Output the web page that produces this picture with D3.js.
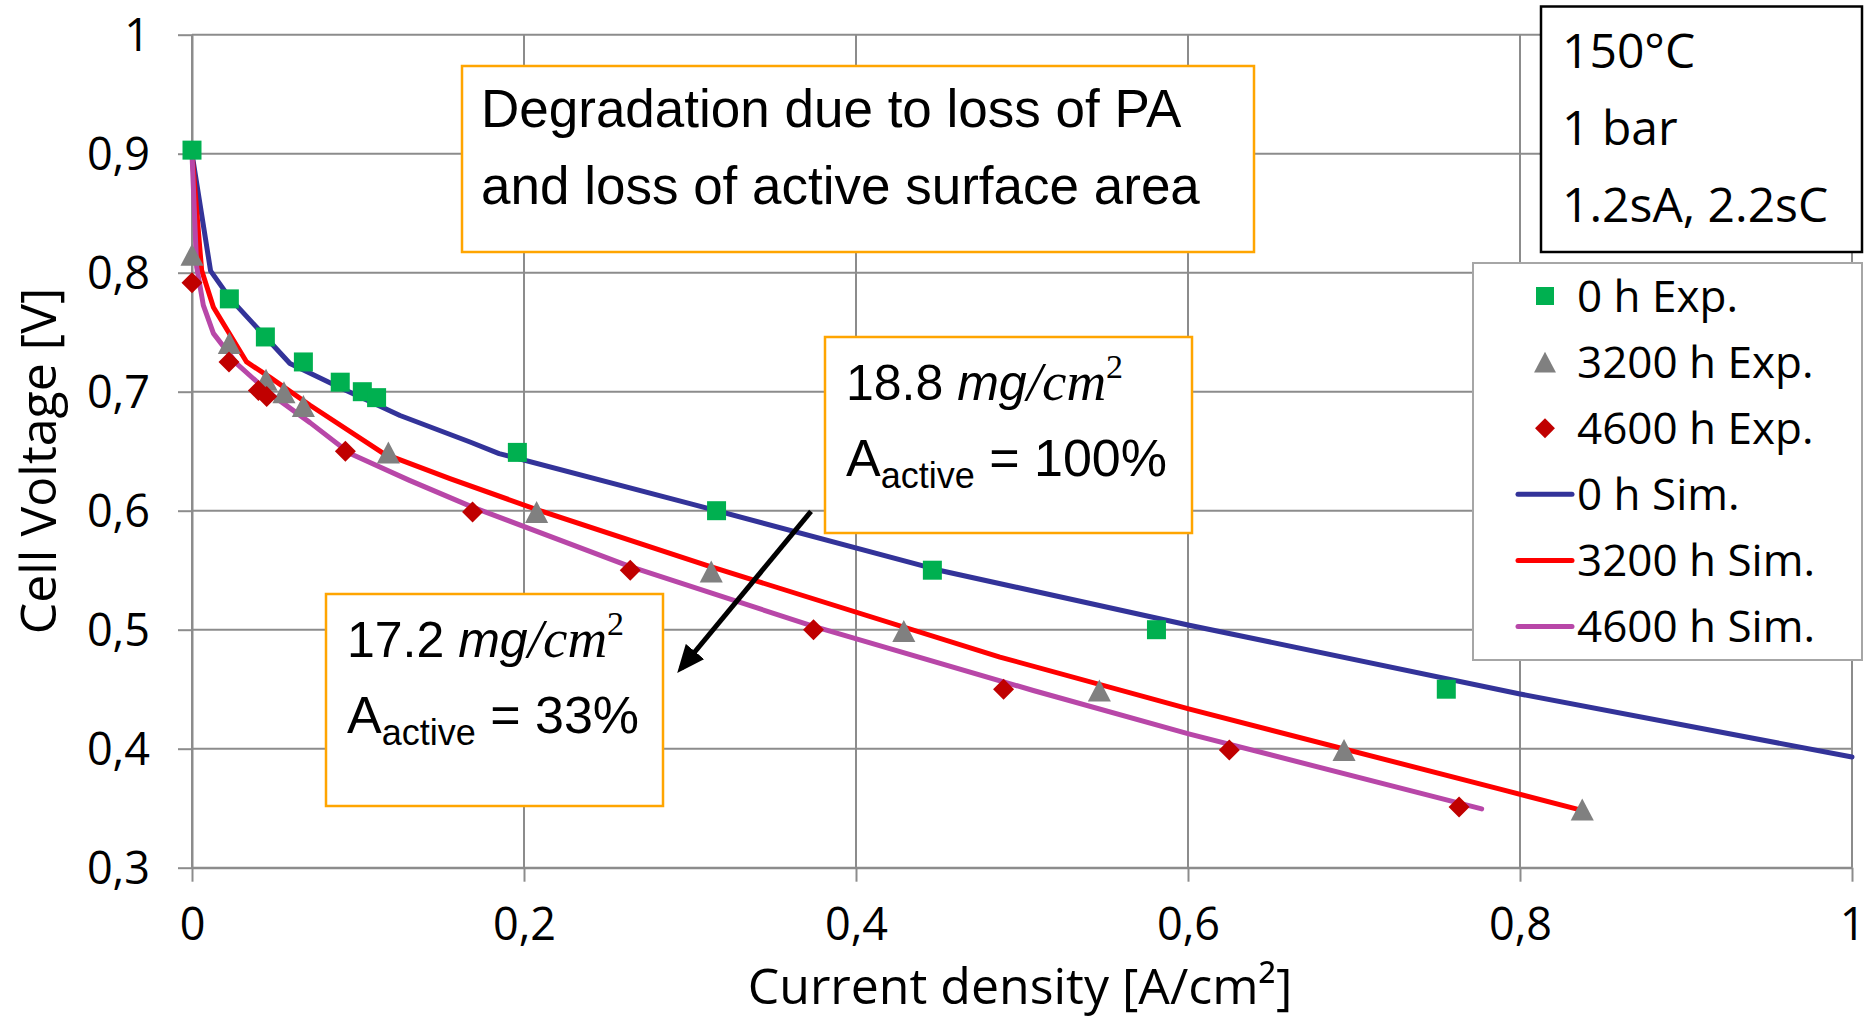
<!DOCTYPE html>
<html>
<head>
<meta charset="utf-8">
<script src="https://cdnjs.cloudflare.com/ajax/libs/d3/7.8.5/d3.min.js"></script>
<style>
  body { margin: 0; background: #fff; }
  svg { display: block; }
</style>
</head>
<body>
<script>

//Width and height
var w = 1864;
var h = 1020;

//Tick values
var xTicks = [0, 0.2, 0.4, 0.6, 0.8, 1];
var yTicks = [0.3, 0.4, 0.5, 0.6, 0.7, 0.8, 0.9, 1];

var exp0X    = [0, 0.0225, 0.0442, 0.0671, 0.0893, 0.1026, 0.1112, 0.196, 0.316, 0.446, 0.581, 0.7556];
var exp0Y    = [0.903, 0.778, 0.746, 0.725, 0.708, 0.700, 0.695, 0.649, 0.600, 0.550, 0.500, 0.450];
var exp3200X = [0, 0.0225, 0.0446, 0.0554, 0.0671, 0.1183, 0.2076, 0.3128, 0.4288, 0.5466, 0.694, 0.8375];
var exp3200Y = [0.815, 0.741, 0.710, 0.6995, 0.688, 0.649, 0.599, 0.549, 0.499, 0.449, 0.399, 0.349];
var exp4600X = [0, 0.0223, 0.040, 0.045, 0.0924, 0.169, 0.264, 0.3744, 0.4889, 0.6249, 0.7633];
var exp4600Y = [0.7915, 0.725, 0.701, 0.696, 0.650, 0.599, 0.550, 0.500, 0.450, 0.399, 0.351];

//Simulated curves
var sim0X    = [0, 0.0112, 0.0229, 0.059, 0.09, 0.1253, 0.1675, 0.185, 0.3, 0.45, 0.6, 0.8, 1.0];
var sim0Y    = [0.90, 0.8015, 0.7784, 0.7237, 0.703, 0.680, 0.6577, 0.648, 0.606, 0.550, 0.504, 0.446, 0.393];
var sim3200X = [0, 0.0058, 0.0129, 0.0329, 0.047, 0.0711, 0.1155, 0.1554, 0.2076, 0.31, 0.4867, 0.6004, 0.788, 0.835];
var sim3200Y = [0.90, 0.802, 0.771, 0.725, 0.712, 0.6886, 0.648, 0.627, 0.601, 0.554, 0.477, 0.4335, 0.366, 0.349];
var sim4600X = [0, 0.0028, 0.0068, 0.0129, 0.0269, 0.047, 0.0711, 0.0952, 0.131, 0.169, 0.264, 0.374, 0.5068, 0.6004, 0.7769];
var sim4600Y = [0.90, 0.805, 0.7727, 0.749, 0.7236, 0.6984, 0.674, 0.648, 0.6255, 0.603, 0.553, 0.503, 0.4489, 0.4125, 0.3494];

//Legend labels
var legendLabels = ["0 h Exp.", "3200 h Exp.", "4600 h Exp.", "0 h Sim.", "3200 h Sim.", "4600 h Sim."];

//Arrow in data coordinates (start, end)
var arrowX = [0.3729, 0.2946];
var arrowY = [0.5994, 0.4674];

//Helper: zip two arrays into points
function zip(xs, ys) {
    return xs.map(function(d, i) { return [d, ys[i]]; });
}

//Scales
var x = d3.scaleLinear().domain([0, 1]).range([192, 1852]);
var y = d3.scaleLinear().domain([0.3, 1]).range([867.7, 34.7]);

//Comma decimal format
var locale = d3.formatLocale({decimal: ",", thousands: ".", grouping: [3], currency: ["", ""]});
var fmt = locale.format(".1~f");

var gridColor = "#8c8c8c";

//Marker symbol types
var symSquare = { draw: function(c, s) { var r = Math.sqrt(s) / 2; c.rect(-r, -r, 2 * r, 2 * r); } };
var symTriangle = { draw: function(c, s) { var r = Math.sqrt(s) / 2; c.moveTo(0, -r); c.lineTo(r * 1.05, r); c.lineTo(-r * 1.05, r); c.closePath(); } };
var symDiamond = { draw: function(c, s) { var r = Math.sqrt(s) / 2; c.moveTo(0, -r); c.lineTo(r, 0); c.lineTo(0, r); c.lineTo(-r, 0); c.closePath(); } };

var expSeries = [
    {pts: zip(exp0X, exp0Y), type: symSquare, size: 361, color: "#00b050"},
    {pts: zip(exp3200X, exp3200Y), type: symTriangle, size: 484, color: "#808080"},
    {pts: zip(exp4600X, exp4600Y), type: symDiamond, size: 441, color: "#c00000"}
];
var simSeries = [
    {pts: zip(sim0X, sim0Y), color: "#333399"},
    {pts: zip(sim3200X, sim3200Y), color: "#ff0000"},
    {pts: zip(sim4600X, sim4600Y), color: "#b847a8"}
];

//Create SVG element
var svg = d3.select("body")
            .append("svg")
            .attr("width", w)
            .attr("height", h);

svg.append("defs").append("marker")
    .attr("id", "arrowhead")
    .attr("markerUnits", "userSpaceOnUse")
    .attr("viewBox", "0 0 28 24")
    .attr("refX", 22)
    .attr("refY", 12)
    .attr("markerWidth", 28)
    .attr("markerHeight", 24)
    .attr("orient", "auto")
    .append("path")
    .attr("d", "M0,0 L28,12 L0,24 Z")
    .attr("fill", "#000");

//Gridlines
svg.append("g").selectAll("line")
    .data(yTicks)
    .enter().append("line")
    .attr("x1", x(0)).attr("x2", x(1))
    .attr("y1", function(d) { return y(d); })
    .attr("y2", function(d) { return y(d); })
    .attr("stroke", gridColor).attr("stroke-width", 2);

svg.append("g").selectAll("line")
    .data(xTicks)
    .enter().append("line")
    .attr("y1", y(0.3)).attr("y2", y(1))
    .attr("x1", function(d) { return x(d); })
    .attr("x2", function(d) { return x(d); })
    .attr("stroke", gridColor).attr("stroke-width", 2);

//Axes
var yAxis = svg.append("g")
    .attr("transform", "translate(" + x(0) + ",0)")
    .call(d3.axisLeft(y).tickValues(yTicks).tickFormat(fmt).tickSize(14).tickSizeOuter(0).tickPadding(28));

var xAxis = svg.append("g")
    .attr("transform", "translate(0," + y(0.3) + ")")
    .call(d3.axisBottom(x).tickValues(xTicks).tickFormat(fmt).tickSize(14).tickSizeOuter(0).tickPadding(26));

[yAxis, xAxis].forEach(function(a) {
    a.selectAll("path, line").attr("stroke", gridColor).attr("stroke-width", 2);
    a.selectAll("text")
        .attr("fill", "#000")
        .style("font-family", "'Open Sans', sans-serif")
        .style("font-size", "45px");
});
yAxis.selectAll("text").attr("dy", "0.36em");

//Axis titles
svg.append("text")
    .attr("x", 1020).attr("y", 1004)
    .attr("text-anchor", "middle")
    .style("font-family", "'Open Sans', sans-serif")
    .style("font-size", "50px")
    .text("Current density [A/cm²]");

svg.append("text")
    .attr("transform", "translate(56,461) rotate(-90)")
    .attr("text-anchor", "middle")
    .style("font-family", "'Open Sans', sans-serif")
    .style("font-size", "50px")
    .text("Cell Voltage [V]");

//Simulation lines
var line = d3.line()
    .x(function(d) { return x(d[0]); })
    .y(function(d) { return y(d[1]); });

svg.append("g").selectAll("path")
    .data(simSeries)
    .enter().append("path")
    .attr("d", function(d) { return line(d.pts); })
    .attr("fill", "none")
    .attr("stroke", function(d) { return d.color; })
    .attr("stroke-width", 5)
    .attr("stroke-linejoin", "round")
    .attr("stroke-linecap", "round");

//Experimental markers
expSeries.forEach(function(s) {
    svg.append("g").selectAll("path")
        .data(s.pts)
        .enter().append("path")
        .attr("transform", function(d) { return "translate(" + x(d[0]) + "," + y(d[1]) + ")"; })
        .attr("d", d3.symbol().type(s.type).size(s.size))
        .attr("fill", s.color);
});

//Arrow
svg.append("line")
    .attr("x1", x(arrowX[0])).attr("y1", y(arrowY[0]))
    .attr("x2", x(arrowX[1])).attr("y2", y(arrowY[1]))
    .attr("stroke", "#000")
    .attr("stroke-width", 5)
    .attr("marker-end", "url(#arrowhead)");

//Annotation boxes
var orange = "#ffa500";
var arial = "'Liberation Sans', Arial, sans-serif";
var serif = "'Liberation Serif', 'Times New Roman', serif";

function box(x0, y0, bw, bh, stroke) {
    svg.append("rect")
        .attr("x", x0).attr("y", y0)
        .attr("width", bw).attr("height", bh)
        .attr("fill", "#fff")
        .attr("stroke", stroke)
        .attr("stroke-width", 2.5);
}

box(462, 66, 792, 186, orange);
var t1 = svg.append("text")
    .style("font-family", arial)
    .style("font-size", "53px");
t1.append("tspan").attr("x", 481).attr("y", 127).text("Degradation due to loss of PA");
t1.append("tspan").attr("x", 481).attr("y", 204).text("and loss of active surface area");

function loadingBox(x0, y0, bw, bh, loading, share) {
    box(x0, y0, bw, bh, orange);
    var tx = x0 + 21;
    var l1 = svg.append("text")
        .attr("x", tx).attr("y", y0 + 63)
        .style("font-family", arial)
        .style("font-size", "50px");
    l1.append("tspan").text(loading + " ");
    l1.append("tspan").style("font-style", "italic").text("mg");
    l1.append("tspan").style("font-style", "italic").style("font-family", serif).style("font-size", "55px").text("/cm");
    l1.append("tspan").attr("dy", -22).style("font-family", serif).style("font-size", "34px").text("2");

    var l2 = svg.append("text")
        .attr("x", tx).attr("y", y0 + 139)
        .style("font-family", arial)
        .style("font-size", "52px");
    l2.append("tspan").text("A");
    l2.append("tspan").attr("dy", 12).style("font-size", "36px").text("active");
    l2.append("tspan").attr("dy", -12).text(" = " + share);
}

loadingBox(825, 337, 367, 196, "18.8", "100%");
loadingBox(326, 594, 337, 212, "17.2", "33%");

//Conditions box
box(1541, 6.5, 321, 245.5, "#000");
svg.selectAll(null)
    .data(["150°C", "1 bar", "1.2sA, 2.2sC"])
    .enter().append("text")
    .attr("x", 1562)
    .attr("y", function(d, i) { return 68 + i * 77; })
    .style("font-family", "'Open Sans', sans-serif")
    .style("font-size", "48px")
    .text(function(d) { return d; });

//Legend
svg.append("rect")
    .attr("x", 1473).attr("y", 263)
    .attr("width", 389).attr("height", 397)
    .attr("fill", "#fff")
    .attr("stroke", "#a6a6a6")
    .attr("stroke-width", 2);

var legend = svg.append("g").selectAll("g")
    .data(legendLabels)
    .enter().append("g")
    .attr("transform", function(d, i) { return "translate(0," + (296 + i * 66.1) + ")"; });

legend.each(function(d, i) {
    var g = d3.select(this);
    if (i < 3) {
        var s = expSeries[i];
        g.append("path")
            .attr("transform", "translate(1545,0)")
            .attr("d", d3.symbol().type(s.type).size(s.size * 0.9))
            .attr("fill", s.color);
    } else {
        g.append("line")
            .attr("x1", 1518).attr("x2", 1572)
            .attr("y1", 0).attr("y2", 0)
            .attr("stroke", simSeries[i - 3].color)
            .attr("stroke-width", 5)
            .attr("stroke-linecap", "round");
    }
    g.append("text")
        .attr("x", 1577)
        .attr("y", 15.5)
        .style("font-family", "'Open Sans', sans-serif")
        .style("font-size", "44px")
        .text(d);
});

</script>
</body>
</html>
